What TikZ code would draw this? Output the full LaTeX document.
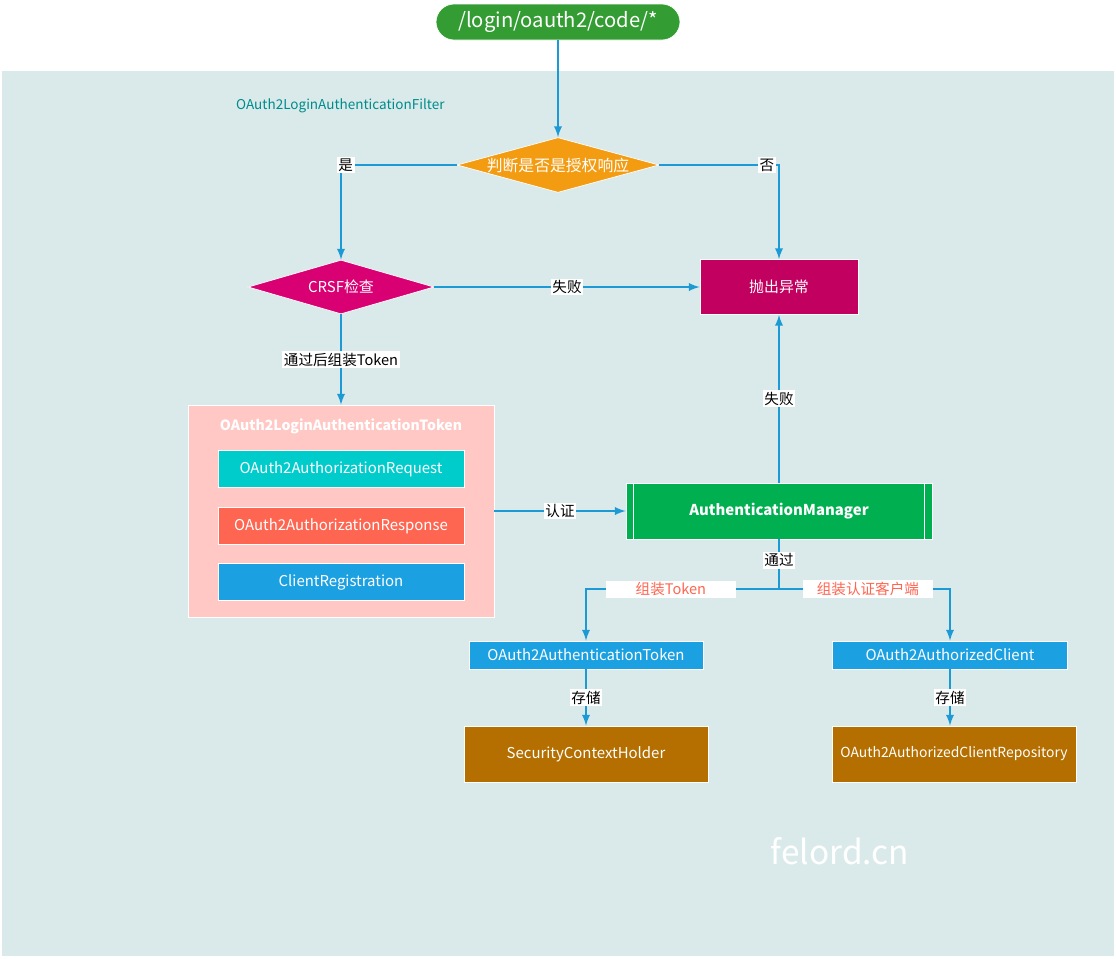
\documentclass[tikz,border=0pt]{standalone}
\usepackage{fontspec}
\setmainfont{Noto Sans CJK SC}
\usetikzlibrary{shapes.geometric}
\definecolor{panel}{HTML}{DAEAEA}
\definecolor{startgreen}{HTML}{339C33}
\definecolor{askorange}{HTML}{F39C12}
\definecolor{checkmag}{HTML}{D80073}
\definecolor{throwred}{HTML}{C1005F}
\definecolor{tokpink}{HTML}{FFC8C4}
\definecolor{reqcyan}{HTML}{00CCCC}
\definecolor{resptomato}{HTML}{FF6652}
\definecolor{objblue}{HTML}{1BA1E2}
\definecolor{mgrgreen}{HTML}{00B050}
\definecolor{storebrown}{HTML}{B46F00}
\definecolor{filterteal}{HTML}{008B8B}
\definecolor{flowblue}{HTML}{1C9AD6}
\tikzset{
  box/.style={draw=white, line width=0.4pt, text=white, inner sep=0pt, font=\fontsize{8.5}{10}\selectfont},
  dia/.style={diamond, aspect=3.6, draw=white, line width=0.4pt, text=white, inner sep=0pt, font=\fontsize{8.5}{10}\selectfont},
  lbl/.style={fill=white, text=black, inner sep=1pt, font=\fontsize{8.3}{9}\selectfont},
  redlbl/.style={fill=white, text=resptomato, inner sep=1pt, minimum width=2.6cm, font=\fontsize{8.3}{9}\selectfont},
}
\begin{document}
\begin{tikzpicture}[x=0.02cm, y=-0.02cm]
\useasboundingbox (0,0) rectangle (1116,958);
\fill[panel] (2,71) rectangle (1114,956);
\node[anchor=west, text=filterteal, font=\fontsize{7.7}{9}\selectfont] (0) at (230,106) {OAuth2LoginAuthenticationFilter};

\node[box, fill=startgreen, rounded corners=0.36cm, minimum width=4.88cm, minimum height=0.72cm, font=\fontsize{11.5}{13}\selectfont] (1) at (558,22) {/login/oauth2/code/*};
\node[dia, fill=askorange, minimum width=4.04cm, minimum height=1.1cm, font=\fontsize{9}{10}\selectfont] (2) at (558,165) {判断是否是授权响应};
\node[dia, fill=checkmag, minimum width=3.72cm, minimum height=1.08cm] (3) at (341,287) {CRSF检查};
\node[box, fill=throwred, minimum width=3.16cm, minimum height=1.1cm] (4) at (779,287) {抛出异常};

\node[box, fill=tokpink, minimum width=6.12cm, minimum height=4.24cm] (5) at (341,511) {};
\node[text=white, font=\bfseries\fontsize{8}{10}\selectfont] (6) at (341,426) {OAuth2LoginAuthenticationToken};
\node[box, fill=reqcyan, minimum width=4.92cm, minimum height=0.74cm] (7) at (341,469) {OAuth2AuthorizationRequest};
\node[box, fill=resptomato, minimum width=4.92cm, minimum height=0.74cm] (8) at (341,526) {OAuth2AuthorizationResponse};
\node[box, fill=objblue, minimum width=4.92cm, minimum height=0.74cm] (9) at (341,582) {ClientRegistration};

\node[box, fill=mgrgreen, minimum width=6.12cm, minimum height=1.12cm, font=\bfseries\fontsize{8.5}{10}\selectfont] (10) at (779,511) {AuthenticationManager};
\draw[white, line width=0.4pt] ([xshift=0.16cm]10.north west) -- ([xshift=0.16cm]10.south west);
\draw[white, line width=0.4pt] ([xshift=-0.16cm]10.north east) -- ([xshift=-0.16cm]10.south east);

\node[box, fill=objblue, minimum width=4.68cm, minimum height=0.56cm] (11) at (586,655) {OAuth2AuthenticationToken};
\node[box, fill=objblue, minimum width=4.7cm, minimum height=0.56cm] (12) at (950,655) {OAuth2AuthorizedClient};
\node[box, fill=storebrown, minimum width=4.88cm, minimum height=1.12cm] (13) at (586,754) {SecurityContextHolder};
\node[box, fill=storebrown, minimum width=4.88cm, minimum height=1.12cm, font=\fontsize{7.9}{10}\selectfont] (14) at (954,754) {OAuth2AuthorizedClientRepository};
\node[text=white, font=\fontsize{19}{22}\selectfont] (15) at (840,851) {felord.cn};

\coordinate (j) at (779,589);

\path[draw,flowblue,line width=1.1pt,->,>=latex] (1) -- (2);
\path[draw,flowblue,line width=1.1pt,->,>=latex] (2.west) -| node[lbl,pos=0.48] {是} (3.north);
\path[draw,flowblue,line width=1.1pt,->,>=latex] (2.east) -| node[lbl,pos=0.45] {否} (4.north);
\path[draw,flowblue,line width=1.1pt,->,>=latex] (3.east) -- node[lbl,pos=0.5] {失败} (4.west);
\path[draw,flowblue,line width=1.1pt,->,>=latex] (3.south) -- node[lbl] {通过后组装Token} (5.north);
\path[draw,flowblue,line width=1.1pt,->,>=latex] (5.east) -- node[lbl] {认证} (10.west);
\path[draw,flowblue,line width=1.1pt,->,>=latex] (10.north) -- node[lbl,pos=0.5] {失败} (4.south);
\path[draw,flowblue,line width=1.1pt] (10.south) -- node[lbl,pos=0.42] {通过} (j);
\path[draw,flowblue,line width=1.1pt,->,>=latex] (j) -| node[redlbl,pos=0.28] {组装Token} (11.north);
\path[draw,flowblue,line width=1.1pt,->,>=latex] (j) -| node[redlbl,pos=0.26] {组装认证客户端} (12.north);
\path[draw,flowblue,line width=1.1pt,->,>=latex] (11) -- node[lbl] {存储} (13);
\path[draw,flowblue,line width=1.1pt,->,>=latex] (12) -- node[lbl] {存储} (14.north -| 12.south);
\end{tikzpicture}
\end{document}
